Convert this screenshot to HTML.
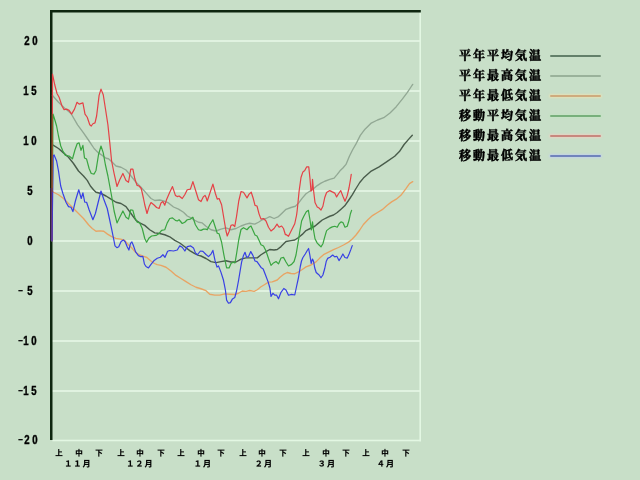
<!DOCTYPE html>
<html lang="ja">
<head>
<meta charset="utf-8">
<title>気温グラフ</title>
<style>
html,body{margin:0;padding:0;}
body{width:640px;height:480px;overflow:hidden;background:#c8dfc8;position:relative;
  font-family:"Liberation Sans","Noto Sans CJK JP",sans-serif;color:#000;}
.abs{position:absolute;}
.grid{position:absolute;left:52px;width:368px;height:2px;background:#e0f2e0;}
.yt{position:absolute;left:10px;width:40px;height:14px;white-space:nowrap;will-change:transform;-webkit-text-stroke:0.4px #000;font-family:"Liberation Sans",sans-serif;font-weight:bold;font-size:12px;line-height:14px;}
.yt span{display:inline-block;position:relative;top:0;width:8px;height:14px;text-align:center;vertical-align:top;}
.yt .dg{transform:scaleX(0.8);}
.yt .mn{width:5px;font-weight:normal;top:-1px;-webkit-text-stroke:0.1px #000;transform:scaleX(1.4);}
.xl{position:absolute;width:40px;text-align:center;font-family:"Liberation Sans","Noto Sans CJK JP",sans-serif;font-weight:bold;font-size:15px;line-height:20px;height:20px;top:443px;transform:scale(0.5);will-change:transform;-webkit-text-stroke:0.35px #000;}
.mo{position:absolute;width:80px;text-align:center;font-family:"Liberation Sans","Noto Sans CJK JP",sans-serif;font-weight:bold;font-size:16px;line-height:20px;height:20px;top:454px;white-space:nowrap;letter-spacing:2.4px;transform:scale(0.5);will-change:transform;-webkit-text-stroke:0.35px #000;}
.lg{position:absolute;left:459px;font-family:"Liberation Serif","Noto Serif CJK SC",serif;font-weight:bold;font-size:12px;line-height:16px;height:16px;letter-spacing:2px;white-space:nowrap;-webkit-text-stroke:0.55px #000;will-change:transform;}
.ll{position:absolute;left:550px;width:51px;height:2px;border-radius:1px;}
</style>
</head>
<body>
<div class="grid" style="top:40px"></div>
<div class="grid" style="top:90px"></div>
<div class="grid" style="top:140px"></div>
<div class="grid" style="top:190px"></div>
<div class="grid" style="top:240px"></div>
<div class="grid" style="top:290px"></div>
<div class="grid" style="top:340px"></div>
<div class="grid" style="top:390px"></div>
<svg class="abs" style="left:0;top:0" width="640" height="480" viewBox="0 0 640 480" fill="none" stroke-linejoin="round" stroke-linecap="round">
<g stroke="none"><rect x="419.4" y="12.3" width="1.6" height="429" fill="#e3f7e3"/><rect x="52.4" y="439.7" width="368.6" height="1.6" fill="#e3f7e3"/><rect x="50" y="10" width="370.8" height="2.5" fill="#0e260f"/><rect x="50" y="10" width="2.5" height="430" fill="#0e260f"/></g>
<polyline stroke="#495c4b" stroke-width="1.4" points="52.5,145 53.5,145.4 58.5,148.5 63.5,152.9 68.5,157.25 73.5,163.5 78.5,171 83.5,176 87.25,180.4 90.4,186 93.5,189.75 96,192.25 101,193.5 106,196 111,199.1 116,202.25 121,203.5 126,206.6 131,213.5 136,220.4 139.75,222.9 144.75,225.4 149.75,229.75 154.75,232.9 159.75,233.5 164.75,234.75 169.75,236.8 174.75,240.4 179.75,243 184.75,246.8 189.75,250.6 194.75,253.7 198.5,255.4 201,256 206,258.5 211,261.6 216,262.6 221,261.6 226,260.75 231,262 236,262 241,259.1 246,257.9 251,257.9 257.25,257.9 261,254.75 266,251.6 269.75,249.5 274.1,250 277.25,249.5 281,246.6 286,241.5 291,240.6 294.75,240 298.5,237.5 302.25,234.4 306,230.6 309.75,228.75 314.75,226.25 318.5,223.1 322.25,220 326,218.1 329.75,216.25 333.5,215 337.25,212.5 341,209.2 344.75,205.8 348.5,200.5 352.25,194.9 356,188.5 359.75,182.5 363.4,178.1 371.25,171.1 379.1,166.9 386.9,161.7 394.7,156.25 399.4,151.6 404.1,144.5 408.75,139.1 412.3,135.2"/>
<polyline stroke="#92a894" stroke-width="1.35" points="52.5,95.5 58.5,102.25 64.5,108 71,113.5 77.6,124.8 83.5,132.9 89.1,141 94.1,148.5 98.5,152.9 102.25,155.4 106,158.25 108.5,158.75 112.25,162.25 116,166 121,167.25 126,170 131,176 136,182.25 141,187.25 146,192.9 151,198.5 154.75,200.5 159.75,200 163.5,200.8 168.5,202.9 173.5,207 178.5,209.1 183.5,212.25 187.25,216 191,217.9 194.75,220.4 198.5,222.25 202.25,222.9 206,226.3 211,229.75 216,231 221,229.1 226,227.9 231,229.75 236,228.5 241,226 246,224.1 249.75,223.25 254.75,224.1 258.5,222.25 262.25,219.75 266,218.5 269.75,216.6 274.1,218.5 278.5,216.6 282.25,212.9 286,209.3 291,207.5 295.4,206.25 298.5,203.1 302.25,198.1 306,193.75 309.75,191.25 313.5,188.75 317.25,185.6 321,183.1 324.75,181.25 329.75,179.4 334.1,178.1 337.25,174.4 340,170.8 342.9,168 346,164.4 349.4,156.25 352.5,150 355.6,144.7 360.3,135.4 365,129.2 371.25,123.1 377.5,120 383.75,117.7 390,113 396.25,106.7 402.5,98.9 407.2,92.7 410.3,88 412.7,84.4"/>
<polyline stroke="#e8a464" stroke-width="1.35" points="52.5,192 53.5,192.25 58.5,194.75 63.5,198.5 68.5,203.5 73.5,208.5 78.5,213.5 83.5,218.5 88.5,224.75 92.25,228.5 96,231.25 100,230.8 103.75,231.25 107.5,234.1 111.25,236.4 115.9,238.3 120.6,239.2 124.4,240.2 128.1,244.4 131.9,248.1 135.6,252.3 139.4,254.7 143.1,256.1 146.9,257.5 150.6,260.8 154.4,263.5 157.2,264.7 161,265.4 166,267.25 171,271 176,275.4 181,278.5 186,281.6 191,284.75 196,287.25 201,288.75 206,290.7 209.75,294.25 214.75,295.1 219.75,295.1 224.75,293.9 229.75,294.25 234.75,294.5 238.5,293.25 242.25,291 246,291.4 249.75,290.5 254.1,291.4 257.25,289.75 261,286.75 264.75,284.5 268.5,282.2 272.25,281.8 277.25,280 279.75,277.5 283.5,274.4 287.25,272.5 291,273.5 294.75,273.75 298.5,271.9 302.25,269.5 306,266.9 311,265 316,261.9 319.75,258.1 323.5,254.7 328.5,252.2 333.5,249.7 338.5,247.5 343.5,245 348.5,242.2 352.25,239 356,235 359.75,230 363.4,224.5 368.1,219.5 372.8,215.3 377.5,212.5 382.2,209.7 386.9,205.5 391.6,201.9 396.25,199.2 400.9,195.3 405.6,189.1 409.5,183.6 412.7,181.6"/>
<polyline stroke="#3aa541" stroke-width="1.2" points="52,241 53,114 54.7,119.5 56.6,126 58.5,136 60.75,146 62.9,151 65.4,155.4 69.1,156 72.5,158.75 75,149.75 77.25,143.5 79.1,142.9 81,150.4 82.9,145.4 84.5,157.9 86.6,159.1 89.1,168.5 91.25,173.5 94.1,174.1 96,170.4 98.5,154.75 101,146 103.25,152.9 105.4,164.75 107.9,176 109.75,186 111.6,196 114.1,211 117,222.9 119.75,217.25 122.9,211 126,217.25 128.5,219.1 130.75,209.75 132.9,210.4 134.75,217.25 137.25,222.25 139.75,222.9 142.25,228.5 144.75,238.5 146.6,242.25 149.1,237.9 151.6,236 156,235.4 159.1,233.5 161.6,230.4 164.75,229.75 167.25,222.9 169.75,218.5 172.5,217.9 175.4,220.4 177.25,221 179.1,219.75 182.25,223.5 184.75,222.25 187.25,219.75 190.4,219.1 192.9,217.25 195.4,224.75 198.5,229.75 201,230.4 203.5,229.1 206,229.1 207.25,229.75 209.75,224.75 212.9,219.75 215.4,227.5 217.25,233.2 219.1,233.8 221.6,242.25 224.1,256 226.6,267.9 229.1,267.9 231,263.5 232.9,262.25 235,262.9 236.6,253.5 238.75,239.75 241,229.5 243.5,227.7 247,229.75 249.1,227.25 251,226 253.25,231 255,235 257,236 259.1,240.4 261,244.75 263.5,246 266,251 268.5,258.5 271,265.4 273.5,262.9 276,261.5 278.5,263.9 281,258 283.5,257.4 286,262 288.5,266 291.6,264.4 294.1,261.5 296,255 297.9,243.75 299.75,231.9 301.6,221 303.8,216.3 306.3,211.8 308.4,210.3 310,220 311.4,230 312.5,221.9 313.5,230 315,238.75 317.25,243.1 319.1,245 321,246.9 322.9,243.75 324.75,236.9 326.6,230.6 329.75,228.1 332.25,226.9 334.75,226.25 337.25,227.25 339.1,223.75 341,221.9 342.9,222.5 345,227.25 347.25,226.25 349.1,220 350.4,213.75 351.6,210.4"/>
<polyline stroke="#e54146" stroke-width="1.2" points="52,241 52.5,74.1 54.75,84.75 57,93.5 59.1,97.25 62,106 64.1,109.75 66.6,109.1 69.1,110.4 71.6,114.1 74.5,109.1 77,102.25 79.1,104.1 82.9,102.9 85,114.1 87.25,117.25 89.75,124.75 91.25,126 92.9,123.75 95,122.9 96.6,116 99.1,95.4 101,89.1 103.25,94.75 105.4,108.5 107.9,124.75 109.75,142.25 111.6,161 114.1,173.5 117,186.5 119.75,179.75 122.9,173.5 126,180.5 128.5,182.25 130.75,169.1 132.9,169.1 134.75,178.5 137,185.4 139.1,186 141.25,188.5 143.5,198.5 144.75,204.75 147,213.5 149.1,206.6 151,202.5 154.1,205 156.6,207.5 159.1,208.5 161,202.9 162.9,201.6 164.75,205.2 166.6,199.5 169.75,192.25 172.5,186.6 175.4,195.4 177.25,196.6 179.1,196 182.25,198.5 184.75,194.75 187.25,189.75 190.4,189.1 192.9,181.6 195.4,189.75 198.5,199.75 201,201.6 203.5,196.6 205,195.4 206,197.25 207.25,201 209.75,193.5 212.9,184.1 215.4,193.5 217.25,199.1 219.1,198.5 221.6,204.75 224.1,219.75 226,231 227.25,236 229.1,231.5 231,225.4 232.9,224.75 234.75,226.6 236.6,216 238.75,201 241,191.6 243.5,192.25 247,197.9 249.1,194.1 251.25,192.25 253.25,198.5 255,205.4 257,206 259.1,214.1 261,219.1 263.5,218.5 266,221 268.5,227.25 271,231 274.1,228.5 277,224.1 279.1,227.25 281.6,226 283.5,228.5 285.4,234.75 286,234.4 288.5,236.25 291.6,230 294.75,223.75 296.6,215 297.25,210 299.1,191.25 301,177.5 302.9,171.9 304.75,170.6 306.6,166.9 308.75,166.9 310,178.75 311,191.25 312,190 312.5,179.4 313.5,190 315,202.5 317.25,206.9 319.1,208.1 321,210 322.9,206.25 324.75,197.5 326.6,192.5 329.75,190.6 332.25,191.9 334.75,193.1 336.6,196.9 338.5,193.75 340.75,190.6 342.9,196.25 345,201.25 347.25,195.6 349.1,187.5 350.4,180 351.25,174.4"/>
<polyline stroke="#3840e4" stroke-width="1.2" points="52,241 53.2,156 54.1,155 56.6,161 58.5,171 60.7,186 62.9,193.5 66,202.25 68.5,206.6 71,207.25 72.9,211.6 75.4,201 78.75,189.75 81.25,198.5 82.9,192.9 84.75,202.25 86.6,202.25 89.1,209.75 92.9,219.75 95.4,213.5 98.5,201 101,191 103.5,198.5 107.25,208.5 109.6,219.5 111.7,229.4 113.6,238.75 115,245.8 116.9,247.7 118.75,246.7 121.1,241.6 123.4,239.9 125.3,242 127.2,246.7 128.9,250 130.5,243.4 131.9,242 133.3,245.3 135.6,251.9 138.4,255.6 140.8,256.6 142.9,256.3 144.4,264 146,266.5 148.5,267.9 151,264.3 154.2,260.4 157.25,258.3 160.4,257.25 162.9,254.75 165,257.25 167.6,251.3 169.75,250.5 173.5,251 177.25,250 179.75,245.9 182.25,247.25 184.9,251 187.25,246.6 190.7,245.9 193.5,247.9 195.4,252.9 197.4,254.75 200.4,251 202.9,251.3 206,254.5 208.5,256.6 211,254.1 212.9,250.4 215,260.4 217,267.1 218.5,265.9 221,272.4 223.5,280.3 225.4,290 226.6,300.1 228.5,303.25 230.4,302.6 232.5,298.9 234.75,297.6 236.6,290.75 238.5,280.75 240.2,270.5 241.6,262.2 243.5,255.4 245,252.25 246.6,257.25 248.5,256.6 250.75,251.6 252.9,255.4 255,261 257,261.6 259.1,264.6 261,267.4 263.2,269 265.7,275.5 268.2,282.1 269.9,288 271,296.4 272.9,293.25 274.75,295.1 276.5,295 278.5,298.8 281,292.3 283.8,288.5 286,290 288.5,295.25 291.6,294.4 294.75,295 296.6,286.25 298.5,277.5 300.3,266.5 301.5,261 302.8,257.8 305.4,253.75 307.25,250.5 308.6,248.5 309.9,255.3 311.2,263.4 312.5,259 313.5,261.2 314.75,268 316.2,272.5 319.1,275 321,277.75 322.9,275 324.75,268.5 326.3,261.2 327.6,258.4 330,257.2 332.7,255 334.75,256.9 336.8,256.25 339,260.6 341,257.5 342.9,254 344.9,257.5 347.25,258.1 349.1,254 350.9,249.4 352.25,245.6"/>
<line x1="52.3" y1="114" x2="52.3" y2="192" stroke="#8e5826" stroke-width="1.1" stroke-linecap="butt"/>
<line x1="51.4" y1="188" x2="51.4" y2="240.5" stroke="#5a2488" stroke-opacity="0.42" stroke-width="2.8" stroke-linecap="butt"/>
</svg>
<div class="yt" style="top:34px"><span class="dg" style="left:12.50px">2</span><span class="dg" style="left:12.70px">0</span></div>
<div class="yt" style="top:84px"><span class="dg" style="left:11.50px">1</span><span class="dg" style="left:11.65px">5</span></div>
<div class="yt" style="top:134px"><span class="dg" style="left:11.50px">1</span><span class="dg" style="left:11.65px">0</span></div>
<div class="yt" style="top:184px"><span class="dg" style="left:16.45px">5</span></div>
<div class="yt" style="top:234px"><span class="dg" style="left:16.30px">0</span></div>
<div class="yt" style="top:284px"><span class="mn" style="left:7.85px">-</span><span class="dg" style="left:11.45px">5</span></div>
<div class="yt" style="top:334px"><span class="mn" style="left:7.85px">-</span><span class="dg" style="left:6.50px">1</span><span class="dg" style="left:6.70px">0</span></div>
<div class="yt" style="top:384px"><span class="mn" style="left:7.85px">-</span><span class="dg" style="left:6.50px">1</span><span class="dg" style="left:6.65px">5</span></div>
<div class="yt" style="top:433px"><span class="mn" style="left:7.85px">-</span><span class="dg" style="left:7.60px">2</span><span class="dg" style="left:7.60px">0</span></div>
<div class="xl" style="left:38.6px">上</div>
<div class="xl" style="left:58.8px">中</div>
<div class="xl" style="left:79.3px">下</div>
<div class="xl" style="left:100.6px">上</div>
<div class="xl" style="left:120.3px">中</div>
<div class="xl" style="left:141.0px">下</div>
<div class="xl" style="left:160.7px">上</div>
<div class="xl" style="left:180.8px">中</div>
<div class="xl" style="left:201.3px">下</div>
<div class="xl" style="left:222.6px">上</div>
<div class="xl" style="left:242.3px">中</div>
<div class="xl" style="left:263.0px">下</div>
<div class="xl" style="left:285.7px">上</div>
<div class="xl" style="left:305.8px">中</div>
<div class="xl" style="left:326.3px">下</div>
<div class="xl" style="left:345.6px">上</div>
<div class="xl" style="left:365.3px">中</div>
<div class="xl" style="left:386.0px">下</div>
<div class="mo" style="left:38.4px">１１月</div>
<div class="mo" style="left:100.3px">１２月</div>
<div class="mo" style="left:163.0px">１月</div>
<div class="mo" style="left:223.5px">２月</div>
<div class="mo" style="left:286.6px">３月</div>
<div class="mo" style="left:346.3px">４月</div>
<div class="lg" style="top:48px">平年平均気温</div>
<div class="ll" style="top:55px;background:#63806a;box-shadow:0 0 2px 1px rgba(215,232,215,0.0)"></div>
<div class="lg" style="top:68px">平年最高気温</div>
<div class="ll" style="top:75px;background:#9ab29b;box-shadow:0 0 2px 1px rgba(215,232,215,0.0)"></div>
<div class="lg" style="top:88px">平年最低気温</div>
<div class="ll" style="top:95px;background:#cfab7e;box-shadow:0 0 2px 1px rgba(250,225,170,0.55)"></div>
<div class="lg" style="top:108px">移動平均気温</div>
<div class="ll" style="top:115px;background:#78b07c;box-shadow:0 0 2px 1px rgba(190,235,190,0.4)"></div>
<div class="lg" style="top:128px">移動最高気温</div>
<div class="ll" style="top:135px;background:#c8887e;box-shadow:0 0 2px 1px rgba(255,200,190,0.55)"></div>
<div class="lg" style="top:148px">移動最低気温</div>
<div class="ll" style="top:155px;background:#7084bc;box-shadow:0 0 2px 1px rgba(190,200,255,0.55)"></div>
</body>
</html>
